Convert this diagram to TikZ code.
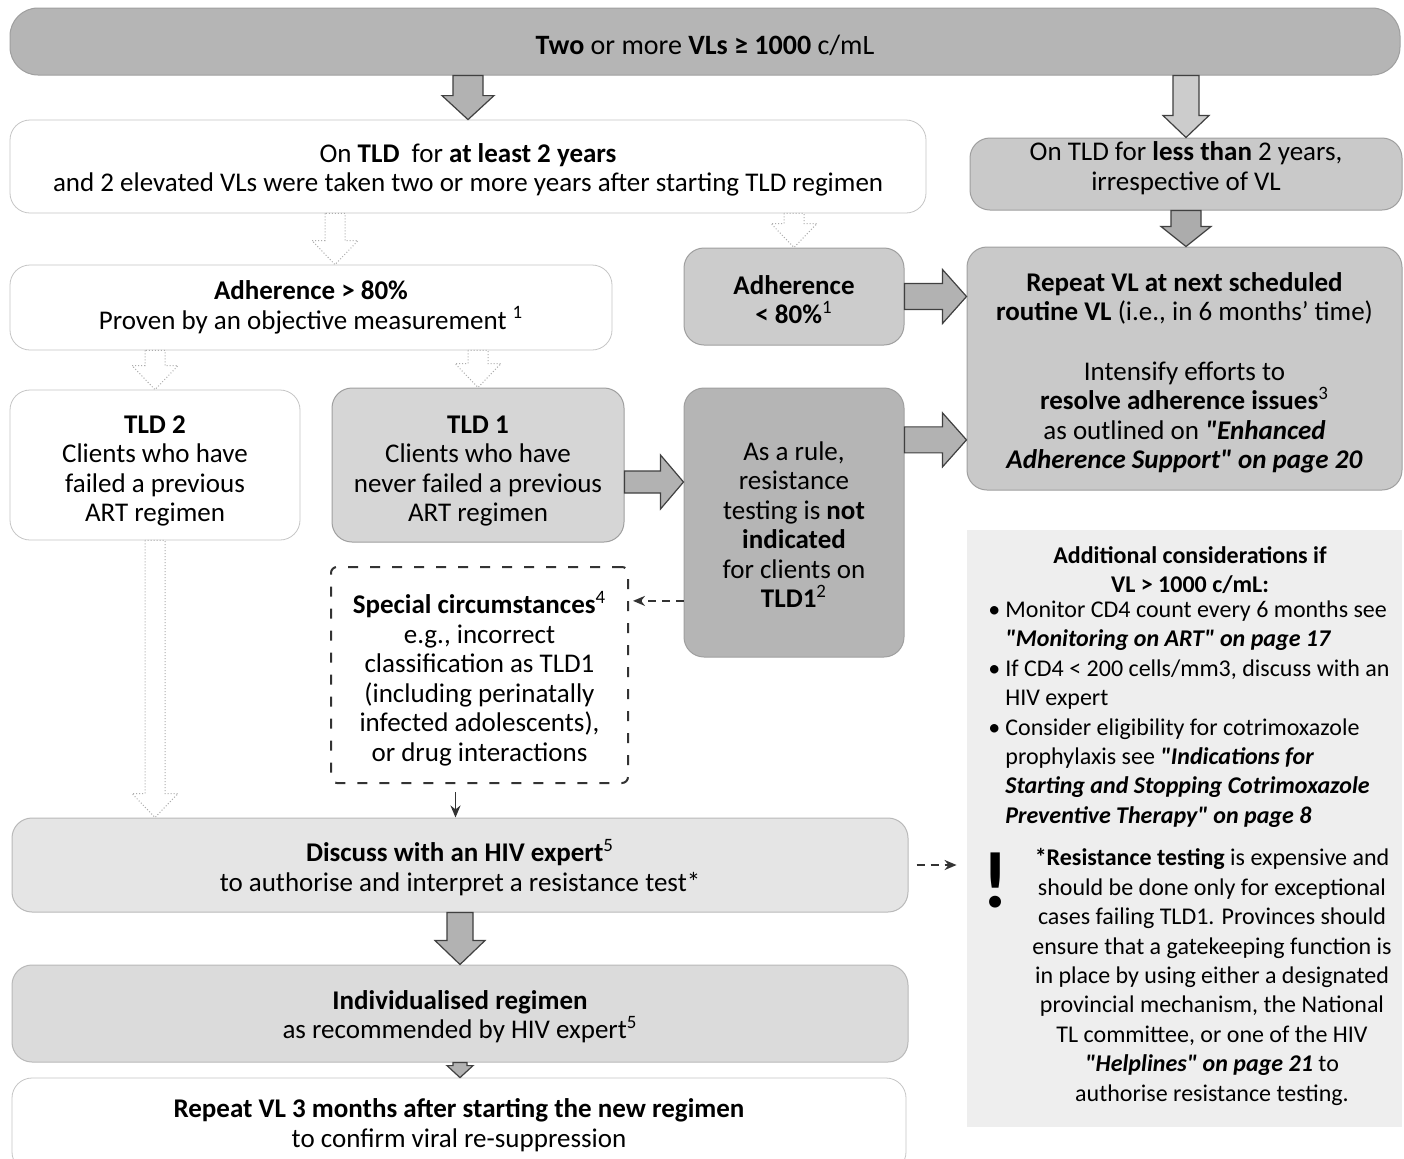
\documentclass[tikz,border=0pt]{standalone}
\usepackage{fontspec}
\setmainfont{Carlito}
\newfontfamily\qfont{Carlito}
\usetikzlibrary{calc,arrows.meta}
% down block arrow: from, to, shaft half width, head half width, head length, style
\newcommand\blkdown[6]{\path[#6] let \p1=(#1), \p2=(#2) in
  (\x1-#3,\y1) -- (\x1-#3,\y2+#5) -- (\x1-#4,\y2+#5) -- (\x1,\y2) --
  (\x1+#4,\y2+#5) -- (\x1+#3,\y2+#5) -- (\x1+#3,\y1) -- cycle;}
% right block arrow
\newcommand\blkright[6]{\path[#6] let \p1=(#1), \p2=(#2) in
  (\x1,\y1-#3) -- (\x2-#5,\y1-#3) -- (\x2-#5,\y1-#4) -- (\x2,\y1) --
  (\x2-#5,\y1+#4) -- (\x2-#5,\y1+#3) -- (\x1,\y1+#3) -- cycle;}
\newcommand\bi[1]{\textbf{\textit{#1}}}
\newcommand\qt{{\qfont"}}
\newcommand\dn[1]{\rule{0pt}{#1}}
\begin{document}
\begin{tikzpicture}[x=0.5pt,y=-0.5pt,
  every node/.style={font=\fontsize{13.5}{14.75}\selectfont, align=center, inner sep=0pt},
  rfont/.style={font=\fontsize{12}{14.7}\selectfont},
  wbox/.style={draw=gray!45, line width=0.4pt, rounded corners=10pt, fill=white},
  gbox/.style={draw=gray!75, line width=0.5pt, rounded corners=10pt},
  blk/.style={fill=gray!60, draw=black!75, line width=0.6pt},
  hollow/.style={fill=white, draw=gray!65, densely dotted, line width=0.5pt},
  thinarr/.style={-{Stealth[length=6pt,width=5pt]}, line width=0.9pt, draw=black!80},
]
\useasboundingbox[fill=white] (0,0) rectangle (1404,1158);

% nodes
\node[gbox, fill=gray!58, rounded corners=14pt, minimum width=695pt, minimum height=33.5pt,
      font=\fontsize{14}{16}\selectfont] (banner) at (705,41.5)
  {\dn{13.8pt}\textbf{Two} or more \textbf{VLs ≥ 1000} c/mL};
\node[wbox, minimum width=458pt, minimum height=46.5pt] (on2) at (468,166.5)
  {\dn{12.6pt}On \textbf{TLD}\ \ for \textbf{at least 2 years}\\ and 2 elevated VLs were taken two or more years after starting TLD regimen};
\node[gbox, fill=gray!42, minimum width=216pt, minimum height=36pt] (onlt) at (1186,174)
  {On TLD for \textbf{less than} 2 years,\\ irrespective of VL\rule[-8pt]{0pt}{0pt}};
\node[wbox, minimum width=301pt, minimum height=42.5pt] (adh80) at (311,307.5)
  {\textbf{Adherence > 80\%}\\ Proven by an objective measurement \textsuperscript{1}};
\node[gbox, fill=gray!40, minimum width=110pt, minimum height=48.5pt] (adl) at (794,296.5)
  {\dn{12.6pt}\textbf{Adherence}\\ \textbf{< 80\%}\textsuperscript{1}};
\node[gbox, fill=gray!42, minimum width=217.5pt, minimum height=121.5pt] (repeat) at (1184.5,368.5)
  {\dn{14pt}\textbf{Repeat VL at next scheduled}\\ \textbf{routine VL} (i.e., in 6 months' time)\\[15pt]
   Intensify efforts to\\ \textbf{resolve adherence issues}\textsuperscript{3}\\
   as outlined on \bi{\qt Enhanced}\\ \bi{Adherence Support\qt} \bi{on page 20}};
\node[wbox, minimum width=145pt, minimum height=75pt] (tld2) at (155,465)
  {\dn{14.6pt}\textbf{TLD 2}\\ Clients who have\\ failed a previous\\ ART regimen};
\node[gbox, fill=gray!32, minimum width=146pt, minimum height=77pt] (tld1) at (478,465)
  {\dn{14.6pt}\textbf{TLD 1}\\ Clients who have\\ never failed a previous\\ ART regimen};
\node[gbox, fill=gray!58, minimum width=110pt, minimum height=134.5pt] (rule) at (794,522.5)
  {\dn{11.6pt}As a rule,\\ resistance\\ testing is \textbf{not}\\ \textbf{indicated}\\ for clients on\\ \textbf{TLD1}\textsuperscript{2}};
\node[draw=black!80, line width=1pt, dash pattern=on 5pt off 6pt, rounded corners=3pt, fill=white,
      minimum width=148.5pt, minimum height=108pt] (special) at (479.5,675)
  {\dn{14.6pt}\textbf{Special circumstances}\textsuperscript{4}\\ e.g., incorrect\\ classification as TLD1\\
   (including perinatally\\ infected adolescents),\\ or drug interactions};
\node[gbox, fill=gray!20, draw=gray!55, minimum width=448pt, minimum height=47pt] (discuss) at (460,865)
  {\dn{13.6pt}\textbf{Discuss with an HIV expert}\textsuperscript{5}\\ to authorise and interpret a resistance test*};
\node[gbox, fill=gray!28, draw=gray!55, minimum width=448pt, minimum height=48.5pt] (indiv) at (460,1013.5)
  {\dn{12.6pt}\textbf{Individualised regimen}\\ as recommended by HIV expert\textsuperscript{5}};
\node[wbox, minimum width=447pt, minimum height=47pt] (rep3) at (459,1125)
  {\textbf{Repeat VL 3 months after starting the new regimen}\\ to confirm viral re-suppression};

% right panel
\node[fill=gray!13, minimum width=217.5pt, minimum height=298.5pt] (panel) at (1184.5,828.5) {};
\node[rfont] (addhead) at (1190,570) {\textbf{Additional considerations if}\\ \textbf{VL > 1000 c/mL:}};
\node[rfont, align=left, anchor=west] (bullets) at (983,714)
  {\makebox[11pt][c]{\textbullet}Monitor CD4 count every 6 months see\\
   \hspace*{11pt}\bi{\qt Monitoring on ART\qt} \bi{on page 17}\\
   \makebox[11pt][c]{\textbullet}If CD4 < 200 cells/mm3, discuss with an\\
   \hspace*{11pt}HIV expert\\
   \makebox[11pt][c]{\textbullet}Consider eligibility for cotrimoxazole\\
   \hspace*{11pt}prophylaxis see \bi{\qt Indications for}\\
   \hspace*{11pt}\bi{Starting and Stopping Cotrimoxazole}\\
   \hspace*{11pt}\bi{Preventive Therapy\qt} \bi{on page 8}};
\node[font=\fontsize{40}{40}\selectfont\bfseries] (excl) at (996,880) {!};
\node[rfont] (restext) at (1212,977)
  {\textbf{*Resistance testing} is expensive and\\ should be done only for exceptional\\
   cases failing TLD1. Provinces should\\ ensure that a gatekeeping function is\\
   in place by using either a designated\\ provincial mechanism, the National\\
   TL committee, or one of the HIV\\ \bi{\qt Helplines\qt} \bi{on page 21} to\\
   authorise resistance testing.};

% solid block arrows
\blkdown{on2.north |- banner.south}{on2.north}{7.5pt}{13pt}{12pt}{blk}
\blkdown{onlt.north |- banner.south}{onlt.north}{6.5pt}{11.5pt}{11pt}{blk, fill=gray!40}
\blkdown{onlt.south}{repeat.north}{7.5pt}{12.5pt}{10pt}{blk, fill=gray!65}
\blkdown{discuss.south}{indiv.north}{6.5pt}{12.5pt}{12pt}{blk}
\blkdown{indiv.south}{rep3.north}{3.5pt}{6.5pt}{6pt}{blk}
\blkright{adl.east}{repeat.west}{6.5pt}{13.5pt}{12pt}{blk}
\blkright{$(tld1.east)+(0,17)$}{rule.west}{5.5pt}{13.5pt}{11.5pt}{blk}
\blkright{$(rule.north east)!0.194!(rule.south east)$}{repeat.west}{6.5pt}{13.5pt}{12pt}{blk}

% hollow arrows
\blkdown{$(adh80.north |- on2.south)+(24,0)$}{adh80.north}{5pt}{11.5pt}{12pt}{hollow}
\blkdown{adl.north |- on2.south}{adl.north}{5pt}{11.5pt}{12pt}{hollow}
\blkdown{tld2.north |- adh80.south}{tld2.north}{5pt}{11.5pt}{12pt}{hollow}
\blkdown{tld1.north |- adh80.south}{tld1.north}{5pt}{11.5pt}{12pt}{hollow}
\blkdown{tld2.south}{tld2.south |- discuss.north}{5pt}{11.5pt}{12pt}{hollow}

% thin arrows
\coordinate (spc) at ($(special.north east)!0.16!(special.south east)$);
\draw[thinarr, dash pattern=on 4pt off 3pt, shorten >=2pt] (rule.west |- spc) -- (spc);
\coordinate (sp1) at ($(special.south)+(-24,0)$);
\draw[thinarr, shorten <=4pt] (sp1) -- (sp1 |- discuss.north);
\draw[thinarr, dash pattern=on 4pt off 3pt, shorten <=4pt, shorten >=13pt] (discuss.east) -- (excl.west |- discuss.east);
\end{tikzpicture}
\end{document}
